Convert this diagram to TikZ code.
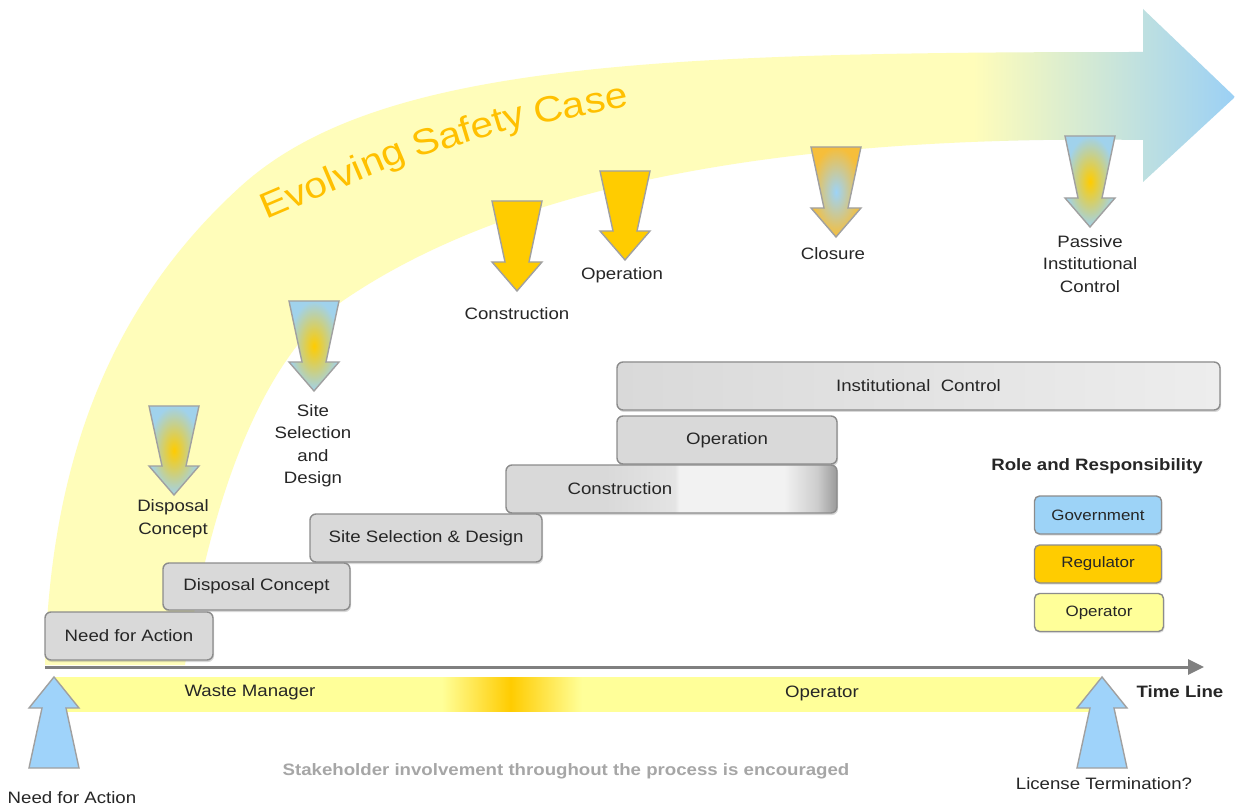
\documentclass[tikz,border=0pt]{standalone}
\usepackage{fontspec}
\setmainfont{Liberation Sans}[FakeStretch=1.13]
\usetikzlibrary{arrows.meta,shadows}
\definecolor{bandy}{HTML}{FFFDBA}
\definecolor{tipblue}{HTML}{9BD0F5}
\definecolor{gold}{HTML}{FFCC00}
\definecolor{evol}{HTML}{FFC000}
\definecolor{roley}{HTML}{FFFF99}
\definecolor{govblue}{HTML}{9DD3F7}
\definecolor{boxg}{HTML}{D9D9D9}
\definecolor{boxl}{HTML}{EDEDED}
\definecolor{cmid}{HTML}{E4E4E4}
\definecolor{clight}{HTML}{F2F2F2}
\definecolor{cdark}{HTML}{9A9A9A}
\definecolor{cdk2}{HTML}{CDCDCD}
\definecolor{edge}{HTML}{8C8C8C}
\definecolor{arredge}{HTML}{A0A0A0}
\definecolor{txt}{HTML}{262626}
\definecolor{stake}{HTML}{A6A6A6}
\definecolor{tlgrey}{HTML}{808080}
\definecolor{arrblue}{HTML}{A0D2EC}
\definecolor{closeor}{HTML}{F6BE3A}
\definecolor{upblue}{HTML}{9FD3FA}
\pgfdeclarehorizontalshading{bandsh}{100bp}{color(0bp)=(bandy); color(64bp)=(bandy); color(75bp)=(tipblue); color(100bp)=(tipblue)}
\pgfdeclarehorizontalshading{rolesh}{100bp}{color(0bp)=(roley); color(43.5bp)=(roley); color(46.8bp)=(gold); color(50.2bp)=(roley); color(100bp)=(roley)}
\pgfdeclarehorizontalshading{constrsh}{100bp}{color(0bp)=(boxg); color(25bp)=(boxg); color(40bp)=(boxg); color(50.5bp)=(cmid); color(51.2bp)=(clight); color(67bp)=(clight); color(72bp)=(cdk2); color(75bp)=(cdark); color(100bp)=(cdark)}
\newcommand\DArrow[5]{\path[#5] ({#1-25},#2) -- ({#1+25},#2) -- ({#1+12},#3) -- ({#1+25},#3) -- (#1,#4) -- ({#1-25},#3) -- ({#1-12},#3) -- cycle;}
\newcommand\UArrow[5]{\path[#5] (#1,#2) -- ({#1+25},#3) -- ({#1+12},#3) -- ({#1+25},#4) -- ({#1-25},#4) -- ({#1-12},#3) -- ({#1-25},#3) -- cycle;}
\tikzset{
  lbl/.style={font=\fontsize{16.5}{22.5}\selectfont, text=txt, inner sep=0pt, align=center},
  evoltext/.style={font=\fontsize{36}{36}\selectfont, text=evol, inner sep=0pt, anchor=base west},
  stair/.style={draw=edge, line width=1.4pt, rounded corners=6pt, fill=boxg, inner sep=0pt,
    font=\fontsize{16.5}{20}\selectfont, text=txt,
    drop shadow={shadow xshift=1pt, shadow yshift=-2pt, opacity=.25, fill=black!60}},
  legbox/.style={draw=edge, line width=1.4pt, rounded corners=5pt, inner sep=0pt,
    minimum width=127pt, minimum height=38pt, font=\fontsize{15}{18}\selectfont, text=txt,
    drop shadow={shadow xshift=1pt, shadow yshift=-1.5pt, opacity=.2, fill=black!60}},
  darr/.style={draw=arredge, line width=1.4pt},
  uarr/.style={draw=arredge, line width=1.4pt, fill=upblue},
}
\begin{document}
\begin{tikzpicture}[x=1pt,y=-1pt]
\useasboundingbox (0,0) rectangle (1235,810);
\fill[white] (0,0) rectangle (1235,810);
% evolving safety case band
\shade[shading=bandsh] (45,665) .. controls (50,470) and (105,310) .. (240,187)
  .. controls (375,64) and (650,52) .. (1143,52) -- (1143,9) -- (1235,97) -- (1143,182) -- (1143,140)
  .. controls (800,135) and (520,180) .. (344,300)
  .. controls (274,348) and (215,470) .. (185,665) -- cycle;
\node[evoltext, rotate=23] (e1) at (266,220) {Evolving};
\node[evoltext, rotate=17] (e2) at (416,158) {Safety};
\node[evoltext, rotate=11.5] (e3) at (536,125) {Case};
% down arrows
\DArrow{174}{406}{466}{495}{darr, inner color=gold, outer color=arrblue}
\DArrow{314}{301}{362}{391}{darr, inner color=gold, outer color=arrblue}
\DArrow{517}{201}{262}{291}{darr, fill=gold}
\DArrow{625}{171}{231}{260}{darr, fill=gold}
\DArrow{836}{147}{208}{237}{darr, inner color=govblue, outer color=closeor}
\DArrow{1090}{136}{198}{227}{darr, inner color=gold, outer color=arrblue}
\node[lbl] (ldc) at (173,518.5) {Disposal\\Concept};
\node[lbl] (lss) at (313,445.5) {Site\\Selection\\and\\Design};
\node[lbl] (lco) at (517,314) {Construction};
\node[lbl] (lop) at (622,275) {Operation};
\node[lbl] (lcl) at (833,254) {Closure};
\node[lbl] (lpi) at (1090,264) {Passive\\Institutional\\Control};
% stairs
\node[stair, minimum width=603pt, minimum height=48pt, left color=boxg, right color=boxl] (ic) at (918.5,386) {Institutional\ \ Control};
\node[stair, minimum width=220pt, minimum height=48pt] (op) at (727,440) {Operation};
\node[stair, minimum width=331pt, minimum height=48pt, shading=constrsh] (co) at (671.5,489) {};
\node[lbl, font=\fontsize{16.5}{20}\selectfont] (cot) at (620,489) {Construction};
\node[stair, minimum width=232pt, minimum height=48pt] (ss) at (426,538) {Site Selection \& Design};
\node[stair, minimum width=187pt, minimum height=47pt] (dc) at (256.5,586.5) {Disposal Concept};
\node[stair, minimum width=168pt, minimum height=48pt] (na) at (129,636) {Need for Action};
% time line
\coordinate (t0) at (45,667);
\coordinate (t1) at (1204,667);
\draw[tlgrey, line width=3pt, -{Triangle[length=16pt,width=15pt]}] (t0) -- (t1);
\node[lbl, font=\bfseries\fontsize{16.5}{20}\selectfont] (tll) at (1180,692) {Time Line};
% role bar
\shade[shading=rolesh] (55,677) rectangle (1100,711);
\node[lbl] (wm) at (250,693) {Waste Manager};
\node[lbl] (opr) at (822,693) {Operator};
% up arrows
\UArrow{54}{677}{708}{768}{uarr}
\UArrow{1102}{677}{708}{768}{uarr}
\node[lbl] (nfa) at (72,798) {Need for Action};
\node[lbl] (lt) at (1104,784) {License Termination?};
\node[lbl, text=stake, font=\bfseries\fontsize{16.5}{20}\selectfont] (sh) at (566,771) {Stakeholder involvement throughout the process is encouraged};
% legend
\node[lbl, font=\bfseries\fontsize{16.5}{20}\selectfont] (rr) at (1097,466) {Role and Responsibility};
\node[legbox, fill=govblue] (gov) at (1098,515) {Government};
\node[legbox, fill=gold] (reg) at (1098,564) {Regulator};
\node[legbox, fill=roley, minimum width=129pt] (ope) at (1099,612.5) {Operator};
\end{tikzpicture}
\end{document}
